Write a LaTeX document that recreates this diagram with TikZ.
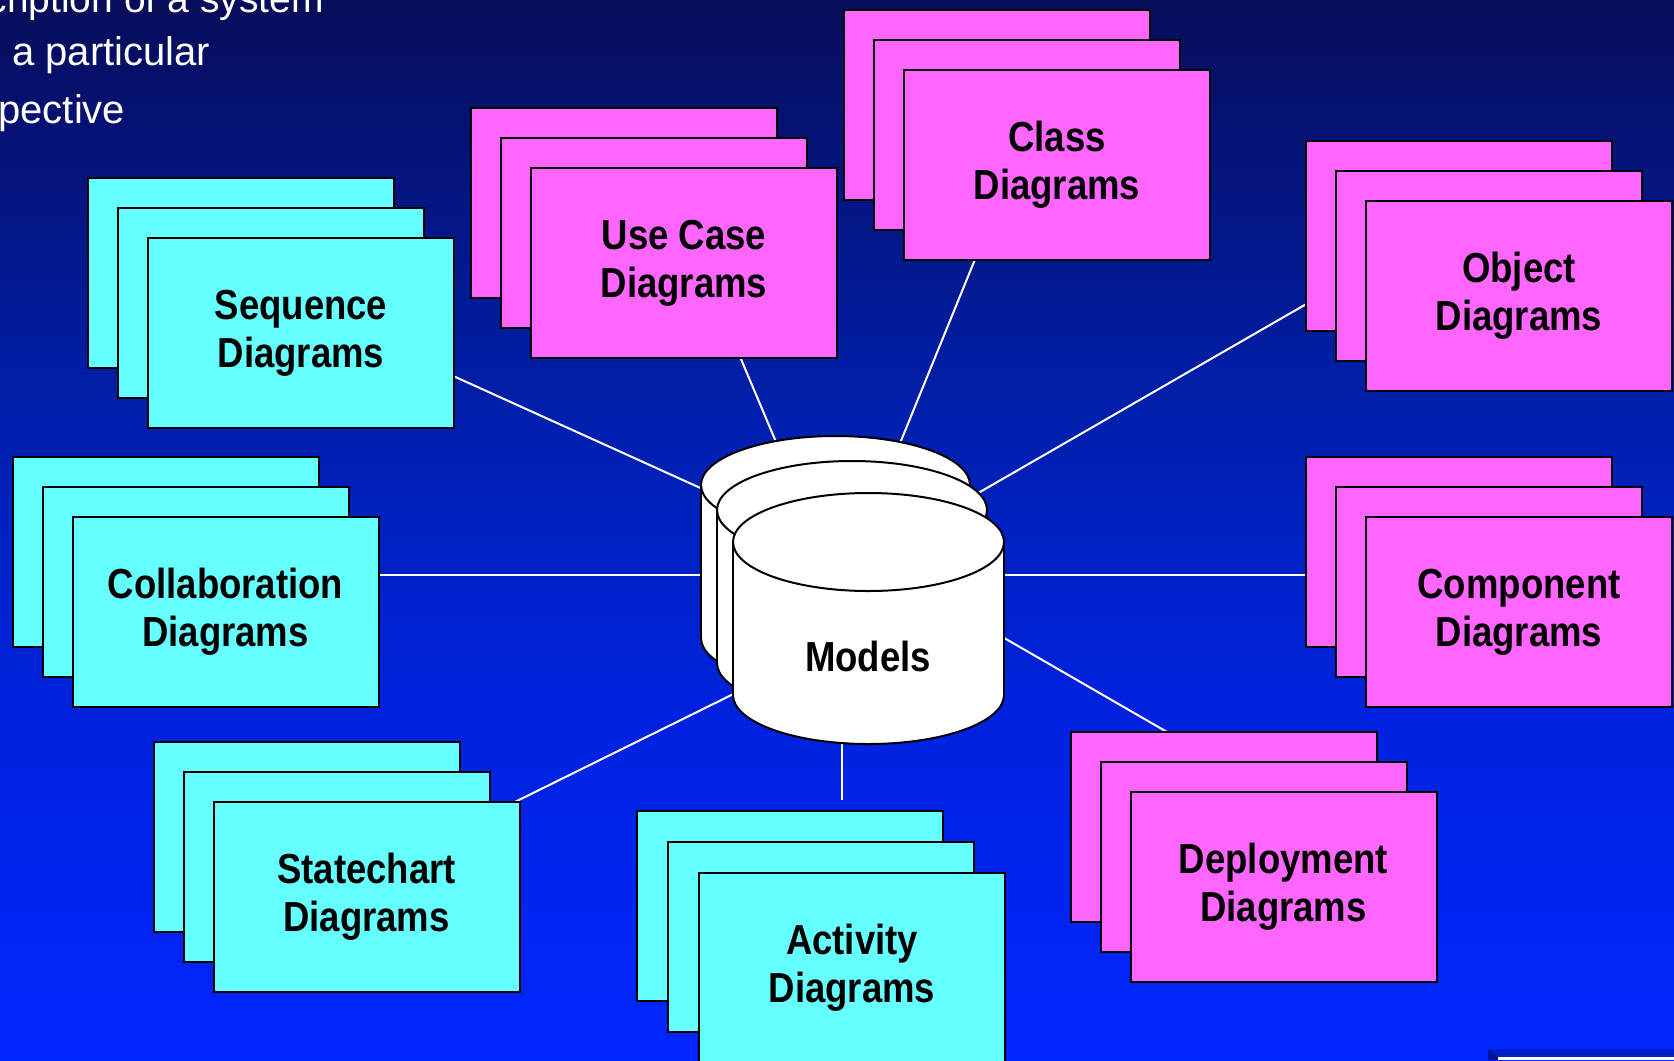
\documentclass[tikz,border=0pt]{standalone}
\usepackage{fontspec}
\newfontfamily\boxfont[FakeStretch=0.87]{Liberation Sans}
\newfontfamily\txtfont{Liberation Sans}
\pgfdeclarelayer{bglayer}
\pgfdeclarelayer{linelayer}
\pgfsetlayers{bglayer,linelayer,main}
\definecolor{bgA}{RGB}{8,13,90}
\definecolor{bgB}{RGB}{0,32,176}
\definecolor{bgC}{RGB}{0,34,221}
\definecolor{bgD}{RGB}{0,38,255}
\definecolor{cyanbox}{RGB}{102,255,255}
\definecolor{magbox}{RGB}{255,102,255}
\definecolor{cornerband}{RGB}{0,32,200}
\definecolor{cornerbevel}{RGB}{0,22,150}
\pgfdeclareverticalshading{bgshade}{100bp}{color(0bp)=(bgD); color(25bp)=(bgD); color(41.98bp)=(bgC); color(54.72bp)=(bgB); color(75bp)=(bgA); color(100bp)=(bgA)}
\tikzset{
  dbox/.style={draw=black, line width=1pt, anchor=north west, minimum width=153pt,
    minimum height=95pt, inner sep=0pt, align=center,
    font=\boxfont\bfseries\fontsize{21}{24.2}\selectfont},
  spoke/.style={draw=white, line width=1pt},
  toptext/.style={text=white, inner sep=0pt, font=\txtfont\fontsize{20}{24}\selectfont},
  cyl/.style={line width=1pt}
}
\newcommand\diagstack[6]{%
  \node[dbox, fill=#4] (#1back) at (#2-2*#6, #3-2*#6) {};
  \node[dbox, fill=#4] (#1mid) at (#2-#6, #3-#6) {};
  \node[dbox, fill=#4] (#1) at (#2, #3) {#5};}
\newcommand\mycyl[5]{%
  \fill[white] (#1-#4, #2) rectangle (#1+#4, #3);
  \fill[white] (#1, #3) ellipse[x radius=#4, y radius=#5];
  \begin{scope}
    \clip (#1-#4-5, #3) rectangle (#1+#4+5, #3+#5+5);
    \draw[cyl] (#1, #3) ellipse[x radius=#4, y radius=#5];
  \end{scope}
  \draw[cyl] (#1-#4, #2) -- (#1-#4, #3) (#1+#4, #2) -- (#1+#4, #3);
  \filldraw[cyl, fill=white] (#1, #2) ellipse[x radius=#4, y radius=#5];}
\begin{document}
\begin{tikzpicture}[x=0.5pt, y=-0.5pt]
\useasboundingbox (0,0) rectangle (1674,1060);
\begin{scope}
\clip (0,0) rectangle (1674,1060);
\begin{pgfonlayer}{bglayer}
  \shade[shading=bgshade] (0,0) rectangle (1674,1060);
\end{pgfonlayer}
% text at top left
\node[toptext, anchor=base east, font=\txtfont\fontsize{19.5}{24}\selectfont] (t1) at (324,12) {cription of a system};
\node[toptext, anchor=base west] (t2) at (12,65) {a particular};
\node[toptext, anchor=base west] (t3) at (-2,123) {pective};
% connector end points
\coordinate (seqS) at (440,370);   \coordinate (seqE) at (760,515);
\coordinate (ucS) at (738,352);    \coordinate (ucE) at (790,475);
\coordinate (clsS) at (978,252);   \coordinate (clsE) at (885,480);
\coordinate (objS) at (1315,299);  \coordinate (objE) at (940,515);
\coordinate (colS) at (370,575);   \coordinate (colE) at (760,575);
\coordinate (comS) at (1315,575);  \coordinate (comE) at (960,575);
\coordinate (depS) at (1174,736);  \coordinate (depE) at (960,612.5);
\coordinate (actS) at (842,800);   \coordinate (actE) at (842,700);
\coordinate (stS) at (510,804.4);  \coordinate (stE) at (780,671);
\begin{pgfonlayer}{linelayer}
  \foreach \n in {seq,uc,cls,obj,col,com,dep,act,st}
    \draw[spoke] (\n S) -- (\n E);
\end{pgfonlayer}
% diagram stacks
\diagstack{seq}{147}{237}{cyanbox}{Sequence\\Diagrams}{30}
\diagstack{uc}{530}{167}{magbox}{Use Case\\Diagrams}{30}
\diagstack{cls}{903}{69}{magbox}{Class\\Diagrams}{30}
\diagstack{obj}{1365}{200}{magbox}{Object\\Diagrams}{30}
\diagstack{col}{71.5}{516}{cyanbox}{Collaboration\\Diagrams}{30}
\diagstack{com}{1365}{516}{magbox}{Component\\Diagrams}{30}
\diagstack{st}{212.5}{801}{cyanbox}{Statechart\\Diagrams}{30}
\diagstack{act}{698}{872}{cyanbox}{Activity\\Diagrams}{31}
\diagstack{dep}{1129.5}{791}{magbox}{Deployment\\Diagrams}{30}
% model cylinders
\mycyl{835.5}{485}{638}{134.5}{49}
\mycyl{852}{510}{663}{135}{49}
\mycyl{868.5}{542}{695}{135.5}{49}
\node[anchor=base, inner sep=0pt, font=\boxfont\bfseries\fontsize{21}{24.2}\selectfont] (models) at (868,671) {Models};
% bottom right corner element
\fill[cornerband] (1488,1049) rectangle (1674,1060);
\fill[cornerbevel] (1488,1049) -- (1498,1057) -- (1498,1060) -- (1488,1060) -- cycle;
\fill[white] (1498,1057) rectangle (1674,1060);
\end{scope}
\end{tikzpicture}
\end{document}
